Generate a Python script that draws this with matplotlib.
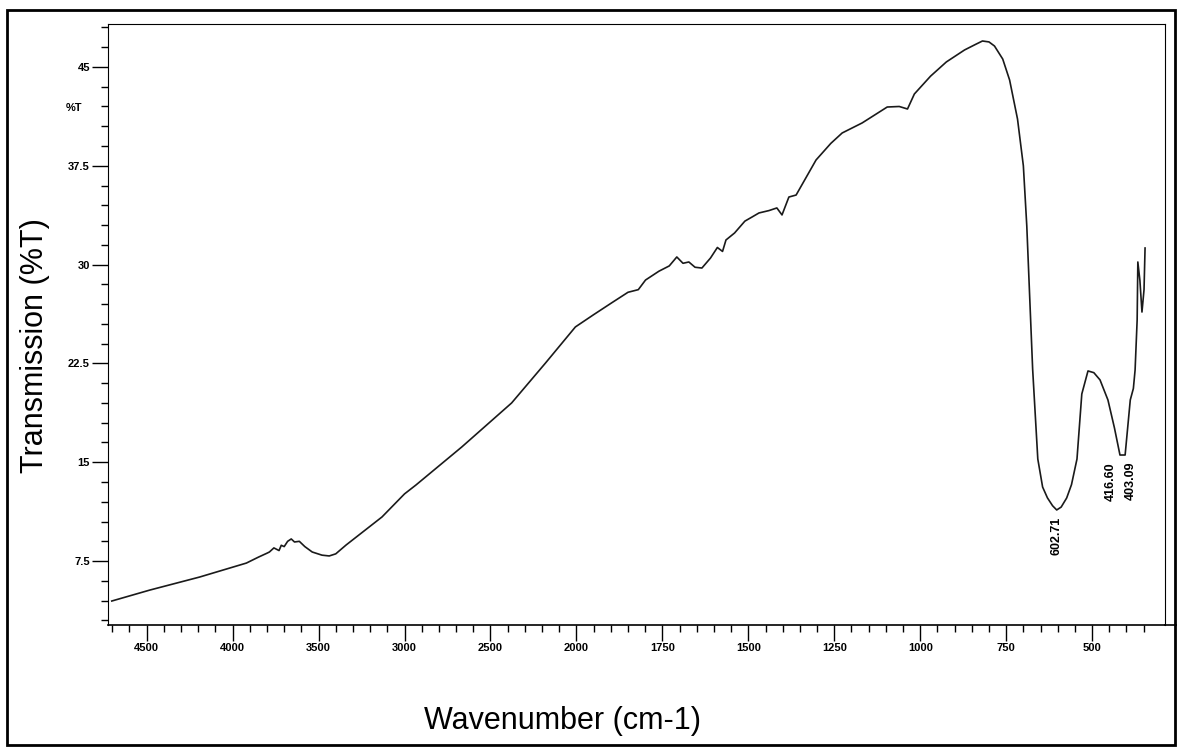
import numpy as np
from matplotlib import pyplot as plt
from matplotlib.patches import Rectangle

plt.rcParams['font.family'] = ['Liberation Sans', 'DejaVu Sans']

# spectrum
wavenumber = [4703, 4482, 4192, 3920, 3850, 3800, 3786, 3760, 3730, 3717, 3700, 3680,
              3659, 3640, 3612, 3580, 3537, 3480, 3438, 3400, 3340, 3131, 3000, 2934,
              2667, 2377, 2180, 2006, 1950, 1898, 1850, 1820, 1799, 1760, 1730, 1708,
              1690, 1673, 1655, 1635, 1610, 1590, 1575, 1565, 1540, 1510, 1490, 1469,
              1440, 1417, 1402, 1382, 1361, 1303, 1260, 1227, 1169, 1096, 1061, 1037, 1017,
              970, 924, 871, 840, 819, 800, 784, 760, 740, 717, 700, 690, 673, 658, 644,
              630, 615, 603, 590, 574, 560, 544, 530, 512, 495, 477, 454, 435, 419, 404,
              389, 380, 375, 369, 367, 361, 355, 349, 346]
transmission = [4.47, 5.30, 6.29, 7.35, 7.80, 8.10, 8.19, 8.50, 8.30, 8.70, 8.60, 9.00,
                9.18, 8.95, 9.00, 8.60, 8.19, 7.95, 7.89, 8.05, 8.72, 10.85, 12.60, 13.27,
                16.16, 19.50, 22.53, 25.27, 26.20, 27.09, 27.90, 28.10, 28.83, 29.50, 29.90, 30.58,
                30.10, 30.20, 29.80, 29.74, 30.50, 31.30, 31.00, 31.87, 32.40, 33.30, 33.60, 33.92,
                34.10, 34.30, 33.77, 35.13, 35.28, 37.94, 39.20, 39.99, 40.75, 41.96, 42.00, 41.81, 42.95,
                44.30, 45.38, 46.29, 46.70, 46.97, 46.90, 46.59, 45.60, 44.01, 41.05, 37.50, 32.93, 22.08, 15.25, 13.12,
                12.30, 11.70, 11.38, 11.60, 12.29, 13.30, 15.25, 20.18, 21.93, 21.80, 21.25, 19.73, 17.60, 15.55, 15.55,
                19.73, 20.60, 22.00, 25.80, 30.20, 28.80, 26.40, 28.10, 31.26]

peak_names = ['602.71', '416.60', '403.09']
peak_wavenumber = [602.71, 416.60, 403.09]
peak_depth = [11.38, 15.55, 15.55]

x_major = [4500, 4000, 3500, 3000, 2500, 2000, 1750, 1500, 1250, 1000, 750, 500]
y_major = [7.5, 15, 22.5, 30, 37.5, 45]
y_major_labels = ['7.5', '15', '22.5', '30', '37.5', '45']


# IR chart: scale halves above 2000 cm-1
def fwd(w):
    w = np.asarray(w, dtype=float)
    return np.where(w <= 2000, w, 2000 + (w - 2000) / 2)


def inv(p):
    p = np.asarray(p, dtype=float)
    return np.where(p <= 2000, p, 2000 + (p - 2000) * 2)


W, H = 1177, 749
fig = plt.figure(figsize=(W / 100, H / 100), dpi=100)
ax = fig.add_axes([108 / W, 1 - 625 / H, (1165 - 108) / W, (625 - 24) / H])

ax.plot(wavenumber, transmission, color='#1a1a1a', lw=1.2)

ax.set_xscale('function', functions=(fwd, inv))
ax.set_xlim(4725, 288)
ax.set_ylim(2.65, 48.26)

x_minor = list(range(4700, 2000, -100)) + list(range(1950, 349, -50))
ax.set_xticks(x_major)
ax.set_xticklabels([str(v) for v in x_major], fontweight='bold')
ax.set_xticks(x_minor, minor=True)
ax.set_yticks(y_major)
ax.set_yticklabels(y_major_labels, fontweight='bold')
ax.set_yticks(np.arange(3, 48.1, 1.5), minor=True)

ax.tick_params(which='major', direction='out', length=11.5, width=1.0, labelsize=8, pad=1.5)
ax.tick_params(which='minor', direction='out', length=5, width=1.0)

for side in ['top', 'right', 'left']:
    ax.spines[side].set_linewidth(0.8)
ax.spines['bottom'].set_linewidth(1.2)
# axis line runs past the frame
ax.plot([1, 1.012], [0, 0], transform=ax.transAxes, color='black', lw=1.2, clip_on=False)

ax.text(-0.032, 0.86, '%T', transform=ax.transAxes, fontsize=8, fontweight='bold',
        ha='center', va='center')

offsets = [0, -7, 3.5]
for name, w, d, dx in zip(peak_names, peak_wavenumber, peak_depth, offsets):
    ax.annotate(name, xy=(w, d), xytext=(dx, -5), textcoords='offset points',
                rotation=90, ha='center', va='top', fontsize=9, fontweight='bold')

fig.text(35 / W, 1 - 346 / H, 'Transmission (%T)', rotation=90, fontsize=22,
         ha='center', va='center')
fig.text(562 / W, 1 - 721 / H, 'Wavenumber (cm-1)', fontsize=22, ha='center', va='center')

fig.patches.append(Rectangle((7 / W, 4 / H), (1175 - 7) / W, (745 - 10) / H,
                             transform=fig.transFigure, fill=False, lw=2, edgecolor='black'))

fig.savefig('out.png', dpi=100, facecolor='white')
